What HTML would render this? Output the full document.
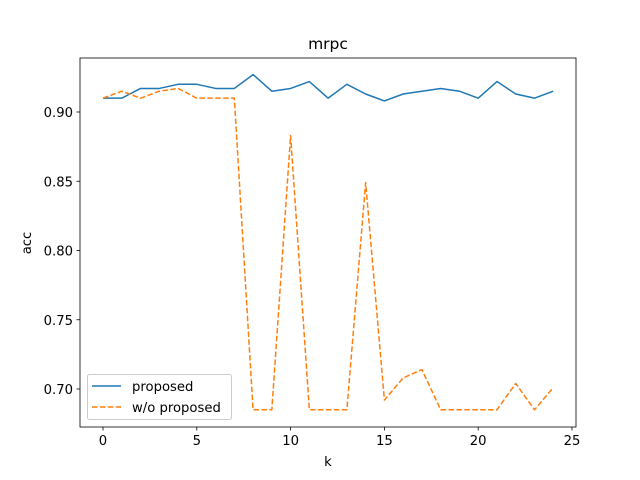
<!DOCTYPE html>
<html><head><meta charset="utf-8"><style>body{margin:0;background:#fff}svg{display:block;font-family:"DejaVu Sans","Liberation Sans",sans-serif}</style></head>
<body>
<svg id="c" width="640" height="480"></svg>
<script>
const ks=[0,1,2,3,4,5,6,7,8,9,10,11,12,13,14,15,16,17,18,19,20,21,22,23,24];
const proposed=[0.910,0.910,0.917,0.917,0.920,0.920,0.917,0.917,0.927,0.915,0.917,0.922,0.910,0.920,0.913,0.908,0.913,0.915,0.917,0.915,0.910,0.922,0.913,0.910,0.915];
const woProposed=[0.910,0.915,0.910,0.915,0.917,0.910,0.910,0.910,0.685,0.685,0.883,0.685,0.685,0.685,0.849,0.692,0.708,0.714,0.685,0.685,0.685,0.685,0.704,0.685,0.701];
const xTicks=[0,5,10,15,20,25];
const yTicks=[0.70,0.75,0.80,0.85,0.90];
const NS='http://www.w3.org/2000/svg',svg=document.getElementById('c');
const L=80,R=576,T=58,B=427;
const xs=v=>103+v*18.76;
const ys=v=>112+(0.9-v)*1385;
function mk(t,a,p){const e=document.createElementNS(NS,t);for(const k in a)e.setAttribute(k,a[k]);(p||svg).appendChild(e);return e;}
function txt(x,y,s,anc,size){const e=mk('text',{x:x,y:y,'text-anchor':anc,'font-size':size||13.2,fill:'#000'});e.textContent=s;return e;}
const t=txt(328,49,'mrpc','middle',15.5);


xTicks.forEach(v=>{const x=xs(v);
const l=mk('line',{x1:x,x2:x,y1:B,y2:B+3.5,stroke:'#000','stroke-width':0.8});


const s=txt(x,B+18,String(v),'middle');

});
yTicks.forEach(v=>{const y=ys(v);
const l=mk('line',{x1:L-3.5,x2:L,y1:y,y2:y,stroke:'#000','stroke-width':0.8});


const s=txt(L-7,y+5,v.toFixed(2),'end');

});
const xl=txt(328,466,'k','middle');


const yl=txt(0,0,'acc','middle');
yl.setAttribute('transform','translate(31,243) rotate(-90)');


const p1=mk('polyline',{points:ks.map((k,i)=>xs(k)+','+ys(proposed[i])).join(' '),fill:'none',stroke:'#1f77b4','stroke-width':1.5,'stroke-linejoin':'round'});


const p2=mk('polyline',{points:ks.map((k,i)=>xs(k)+','+ys(woProposed[i])).join(' '),fill:'none',stroke:'#ff7f0e','stroke-width':1.5,'stroke-dasharray':'5.5,2.4','stroke-linejoin':'round'});


const fr=mk('rect',{x:L,y:T,width:R-L,height:B-T,fill:'none',stroke:'#000','stroke-width':0.8});


const g=mk('g',{});


mk('rect',{x:87.5,y:374.5,width:144,height:45,rx:2,fill:'#fff','fill-opacity':0.8,stroke:'#ccc'},g);
mk('line',{x1:92,x2:121,y1:386,y2:386,stroke:'#1f77b4','stroke-width':1.5},g);
mk('line',{x1:92,x2:121,y1:407,y2:407,stroke:'#ff7f0e','stroke-width':1.5,'stroke-dasharray':'5.5,2.4'},g);
const a=mk('text',{x:132,y:391,'font-size':13.2},g);a.textContent='proposed';
const b=mk('text',{x:132,y:412,'font-size':13.2},g);b.textContent='w/o proposed';
</script>
</body></html>
